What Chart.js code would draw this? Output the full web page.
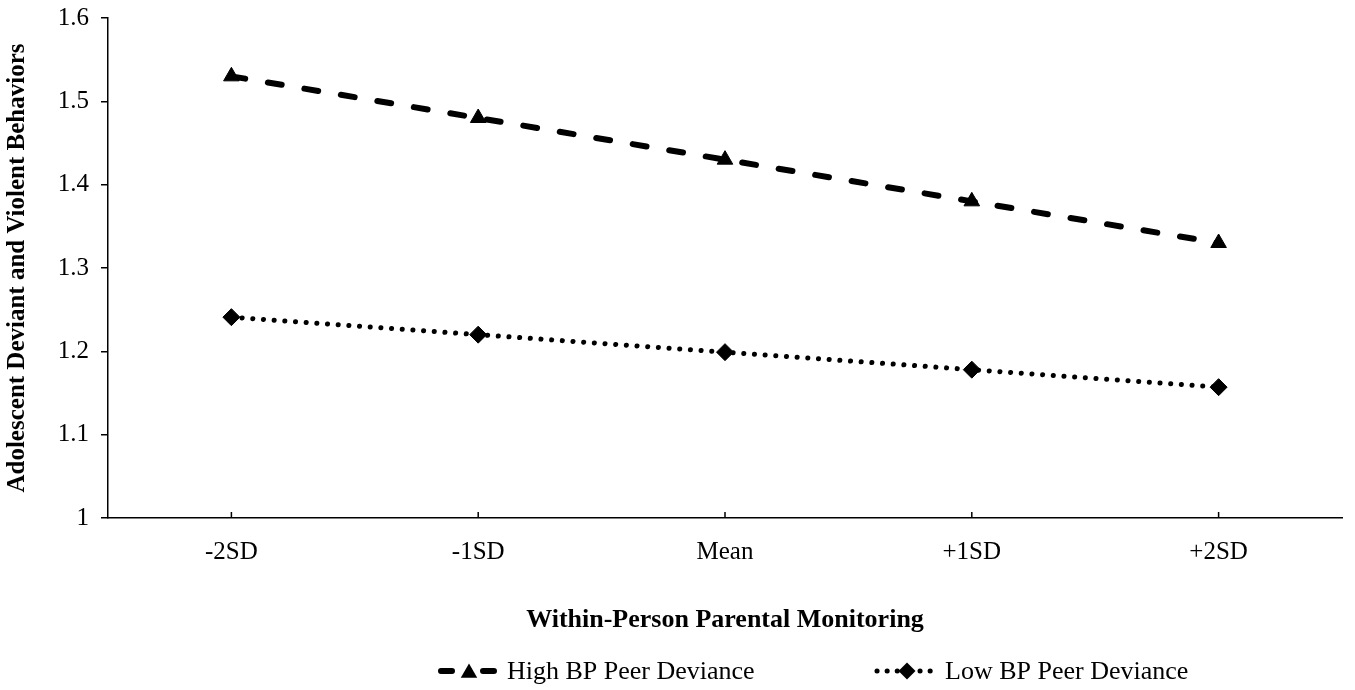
<!DOCTYPE html>
<html>
<head>
<meta charset="utf-8">
<script src="https://cdn.jsdelivr.net/npm/chart.js@4/dist/chart.umd.min.js"></script>
<style>
  html, body { margin: 0; padding: 0; background: #fff; }
  #wrap { width: 1355px; height: 690px; }
</style>
</head>
<body>
<div id="wrap"><canvas id="chart1"></canvas></div>
<script>
const categories = ['-2SD', '-1SD', 'Mean', '+1SD', '+2SD'];
const highPeer = [1.53, 1.48, 1.43, 1.38, 1.33];
const lowPeer = [1.241, 1.220, 1.199, 1.178, 1.157];
const yTicks = [1, 1.1, 1.2, 1.3, 1.4, 1.5, 1.6];

const serif = '"Liberation Serif", "Times New Roman", serif';
const ctx1 = document.getElementById('chart1').getContext('2d');

// tick marks on the x axis point up into the plot, so draw them by hand
const xTickMarks = {
    id: 'xTickMarks',
    afterDraw(chart) {
        const x = chart.scales.x;
        const c = chart.ctx;
        c.save();
        c.strokeStyle = '#000';
        c.lineWidth = 1.5;
        categories.forEach((cat, i) => {
            const px = x.getPixelForValue(i);
            c.beginPath();
            c.moveTo(px, x.top);
            c.lineTo(px, x.top - 6);
            c.stroke();
        });
        c.restore();
    }
};

function drawMarker(c, style, x, y, r) {
    c.beginPath();
    if (style === 'triangle') {
        c.moveTo(x, y - r);
        c.lineTo(x + r * 0.866, y + r * 0.5);
        c.lineTo(x - r * 0.866, y + r * 0.5);
    } else {
        c.moveTo(x, y - r);
        c.lineTo(x + r, y);
        c.lineTo(x, y + r);
        c.lineTo(x - r, y);
    }
    c.closePath();
    c.fill();
}

// legend with line sample + marker, like the original
const sampleLegend = {
    id: 'sampleLegend',
    afterDraw(chart) {
        const c = chart.ctx;
        const y = 671;
        c.save();
        c.strokeStyle = '#000';
        c.fillStyle = '#000';
        c.lineCap = 'round';

        // high: dash - triangle - dash
        c.lineWidth = 6;
        c.beginPath();
        c.moveTo(441, y); c.lineTo(452, y);
        c.moveTo(483, y); c.lineTo(494, y);
        c.stroke();
        drawMarker(c, 'triangle', 469, y + 2, 9.5);

        // low: dots - diamond - dots
        c.lineWidth = 5;
        c.setLineDash([0.1, 10]);
        c.beginPath();
        c.moveTo(877, y); c.lineTo(900, y);
        c.moveTo(920, y); c.lineTo(934, y);
        c.stroke();
        c.setLineDash([]);
        drawMarker(c, 'diamond', 907, y, 8.5);

        c.font = '26px ' + serif;
        c.textBaseline = 'middle';
        c.textAlign = 'left';
        const ds = chart.data.datasets;
        c.fillText(ds[0].label, 507, y + 1);
        c.fillText(ds[1].label, 945, y + 1);
        c.restore();
    }
};

const peerChart = new Chart(ctx1, {
    type: 'line',
    data: {
        labels: categories,
        datasets: [{
            label: 'High BP Peer Deviance',
            data: highPeer,
            borderColor: '#000',
            backgroundColor: '#000',
            borderWidth: 6,
            borderDash: [14, 23],
            borderCapStyle: 'round',
            pointStyle: 'triangle',
            pointRadius: 9,
            pointBorderWidth: 1,
            pointBackgroundColor: '#000',
            tension: 0
        },
        {
            label: 'Low BP Peer Deviance',
            data: lowPeer,
            borderColor: '#000',
            backgroundColor: '#000',
            borderWidth: 5,
            borderDash: [0.1, 10.6],
            borderCapStyle: 'round',
            pointStyle: 'rectRot',
            pointRadius: 8.5,
            pointBorderWidth: 1,
            pointBackgroundColor: '#000',
            tension: 0
        }]
    },
    options: {
        responsive: true,
        maintainAspectRatio: false,
        animation: false,
        layout: {
            padding: { left: 0, right: 13, top: 18, bottom: 50 }
        },
        plugins: {
            legend: { display: false },
            tooltip: { enabled: false }
        },
        scales: {
            x: {
                type: 'category',
                offset: true,
                grid: { display: true, drawOnChartArea: false, drawTicks: false, offset: false },
                border: { display: true, color: '#000', width: 1.5 },
                ticks: {
                    color: '#000',
                    font: { family: serif, size: 25 },
                    padding: 19,
                    maxRotation: 0
                },
                title: {
                    display: true,
                    text: 'Within-Person Parental Monitoring',
                    color: '#000',
                    font: { family: serif, size: 26, weight: 'bold' },
                    padding: { top: 30, bottom: 4 }
                },
                afterFit(scale) { scale.height = 122; }
            },
            y: {
                min: 1,
                max: 1.6,
                afterBuildTicks(scale) { scale.ticks = yTicks.map(v => ({ value: v })); },
                grid: { drawOnChartArea: false, drawTicks: true, tickLength: 7, color: '#000', lineWidth: 1.5 },
                border: { display: true, color: '#000', width: 1.5 },
                ticks: {
                    color: '#000',
                    font: { family: serif, size: 25 },
                    padding: 12,
                    callback: (v) => String(Math.round(v * 10) / 10)
                },
                title: {
                    display: true,
                    text: 'Adolescent Deviant and Violent Behaviors',
                    color: '#000',
                    font: { family: serif, size: 25, weight: 'bold' },
                    padding: { top: 3, bottom: 0 }
                },
                afterFit(scale) {
                    scale.width = 108;
                    scale.paddingTop = 0;
                }
            }
        }
    },
    plugins: [xTickMarks, sampleLegend]
});
</script>
</body>
</html>
